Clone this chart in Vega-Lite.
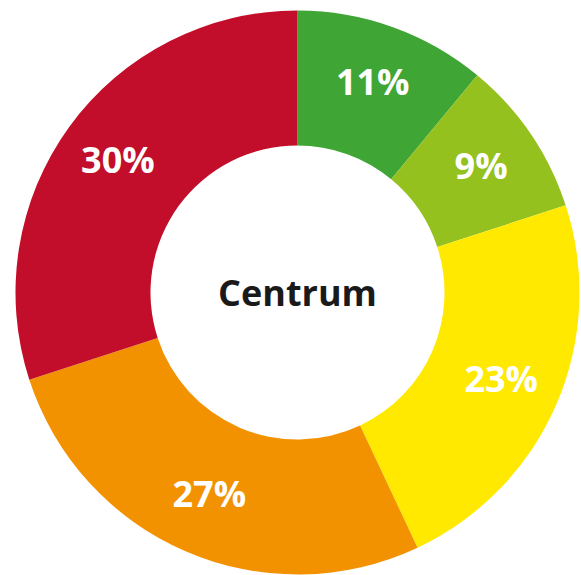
{
  "$schema": "https://vega.github.io/schema/vega-lite/v6.json",
  "autosize": {"type": "fit", "contains": "padding"},
  "width": 581,
  "height": 575,
  "padding": {"left": 14, "top": 10, "right": 0, "bottom": 0},
  "background": "white",
  "config": {"view": {"stroke": null}},
  "layer": [
    {
      "data": {"values": [
        {"idx": 1, "segment": "groen", "value": 11, "label": "11%"},
        {"idx": 2, "segment": "lichtgroen", "value": 9, "label": "9%"},
        {"idx": 3, "segment": "geel", "value": 23, "label": "23%"},
        {"idx": 4, "segment": "oranje", "value": 27, "label": "27%"},
        {"idx": 5, "segment": "rood", "value": 30, "label": "30%"}
      ]},
      "encoding": {
        "theta": {"field": "value", "type": "quantitative", "stack": true},
        "order": {"field": "idx", "type": "quantitative"},
        "color": {
          "field": "segment", "type": "nominal", "legend": null,
          "scale": {
            "domain": ["groen", "lichtgroen", "geel", "oranje", "rood"],
            "range": ["#3fa535", "#95c11f", "#ffe900", "#f39200", "#c20e2a"]
          }
        }
      },
      "layer": [
        {"mark": {"type": "arc", "outerRadius": 282, "innerRadius": 147}},
        {
          "mark": {"type": "text", "radius": 222, "font": "Open Sans", "fontWeight": "bold", "fontSize": 36, "fill": "white", "align": "center", "baseline": "middle"},
          "encoding": {"text": {"field": "label"}, "color": {"value": "white"}}
        }
      ]
    },
    {
      "data": {"values": [{"label": "Centrum"}]},
      "mark": {"type": "text", "font": "Open Sans", "fontWeight": "bold", "fontSize": 36, "color": "#1a1a1a", "align": "center", "baseline": "middle", "dy": 2},
      "encoding": {"text": {"field": "label"}}
    }
  ]
}
